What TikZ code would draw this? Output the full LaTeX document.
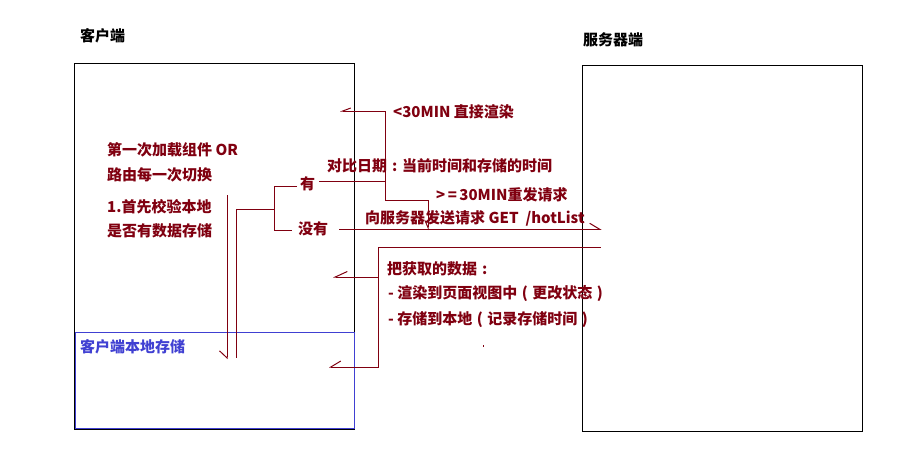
\documentclass[tikz,border=0pt]{standalone}
\usepackage{fontspec}
\newfontfamily\cjk{Noto Sans CJK SC}
\usetikzlibrary{arrows.meta}
\definecolor{mar}{RGB}{128,0,16}
\definecolor{blu}{RGB}{64,64,210}
\newcommand\myLP{\makebox[15pt][c]{(}}
\newcommand\myRP{\makebox[15pt][c]{)}}
\newcommand\myCO{\makebox[15pt][c]{:}}
\begin{document}
\begin{tikzpicture}[x=1pt,y=-1pt,
  txt/.style={anchor=west, inner sep=0pt, text=mar, font=\cjk\bfseries\fontsize{15pt}{18pt}\selectfont},
  ttl/.style={anchor=west, inner sep=0pt, text=black, font=\cjk\bfseries\fontsize{15pt}{18pt}\selectfont},
  box/.style={draw=black, line width=1.2pt, anchor=north west, inner sep=0pt},
  ln/.style={draw=mar, line width=1pt},
  hb/.style 2 args={-{Straight Barb[harpoon,swap,length=#1,width=#2]}},
  hbn/.style 2 args={-{Straight Barb[harpoon,length=#1,width=#2]}}]
\useasboundingbox (0,0) rectangle (903,450);

% boxes
\node[box, minimum width=280pt, minimum height=366pt] (client) at (74,63) {};
\node[box, draw=blu, minimum width=279pt, minimum height=96pt] (store) at (75,332) {};
\node[box, minimum width=280pt, minimum height=366pt] (server) at (582,65) {};

% titles
\node[ttl] (tclient) at (80,36) {客户端};
\node[ttl] (tserver) at (583,40) {服务器端};
\node[txt, text=blu] (tstore) at (80,347) {客户端本地存储};

% texts
\node[txt] (l1) at (107,150) {第一次加载组件 OR};
\node[txt] (l2) at (107,175) {路由每一次切换};
\node[txt] (l3) at (107,207) {1.首先校验本地};
\node[txt] (l4) at (107,231) {是否有数据存储};
\node[txt] (you) at (300,184) {有};
\node[txt] (meiyou) at (298,229) {没有};
\node[txt] (lt30) at (393,112) {<30MIN 直接渲染};
\node[txt] (cmp) at (327,166) {对比日期\myCO 当前时间和存储的时间};
\node[txt] (ge30) at (436,195) {>\,=\,30MIN重发请求};
\node[txt] (req) at (365,218) {向服务器发送请求 GET~~/hotList};
\node[txt] (r1) at (387,269) {把获取的数据\myCO};
\node[txt] (r2) at (388,294) {- 渲染到页面视图中\myLP 更改状态\myRP};
\node[txt] (r3) at (388,320) {- 存储到本地\myLP 记录存储时间\myRP};
\fill[mar] (482.5,344.5) rectangle (483.5,347);

% coordinates
\coordinate (bTopR) at (297,186);
\coordinate (bTop) at (274,186);
\coordinate (bBot) at (274,230);
\coordinate (bBotR) at (292,230);
\coordinate (bMid) at (274,209);
\coordinate (vTop) at (236,209);
\coordinate (vBot) at (236,358);
\coordinate (aTop) at (227,195);
\coordinate (aBot) at (227,359);
\coordinate (youR) at (319,181);
\coordinate (jY) at (385,181);
\coordinate (jTop) at (385,111);
\coordinate (jBot) at (385,200);
\coordinate (ltTip) at (340,111);
\coordinate (gR) at (428,200);
\coordinate (gTip) at (428,230);
\coordinate (myL) at (339,229.3);
\coordinate (myTip) at (601.5,229.3);
\coordinate (rS) at (600.5,247);
\coordinate (rC) at (378,247);
\coordinate (rB) at (378,367);
\coordinate (rTip2) at (329,367);
\coordinate (rM) at (378,277);
\coordinate (rTip1) at (333,277);

% connectors
\draw[ln] (bTopR) -- (bTop) -- (bBot) -- (bBotR);
\draw[ln] (bMid) -- (vTop) -- (vBot);
\draw[ln, hb={7pt}{15pt}] (aTop) -- (aBot);
\draw[ln] (youR) -- (jY);
\draw[ln, hb={8pt}{6pt}] (jBot) -- (jTop) -- (ltTip);
\draw[ln, hb={7pt}{6pt}] (jBot) -- (gR) -- (gTip);
\draw[ln, hbn={10pt}{12pt}] (myL) -- (myTip);
\draw[ln, hb={10pt}{12pt}] (rS) -- (rC) -- (rB) -- (rTip2);
\draw[ln, hb={12pt}{11pt}] (rM) -- (rTip1);
\end{tikzpicture}
\end{document}
